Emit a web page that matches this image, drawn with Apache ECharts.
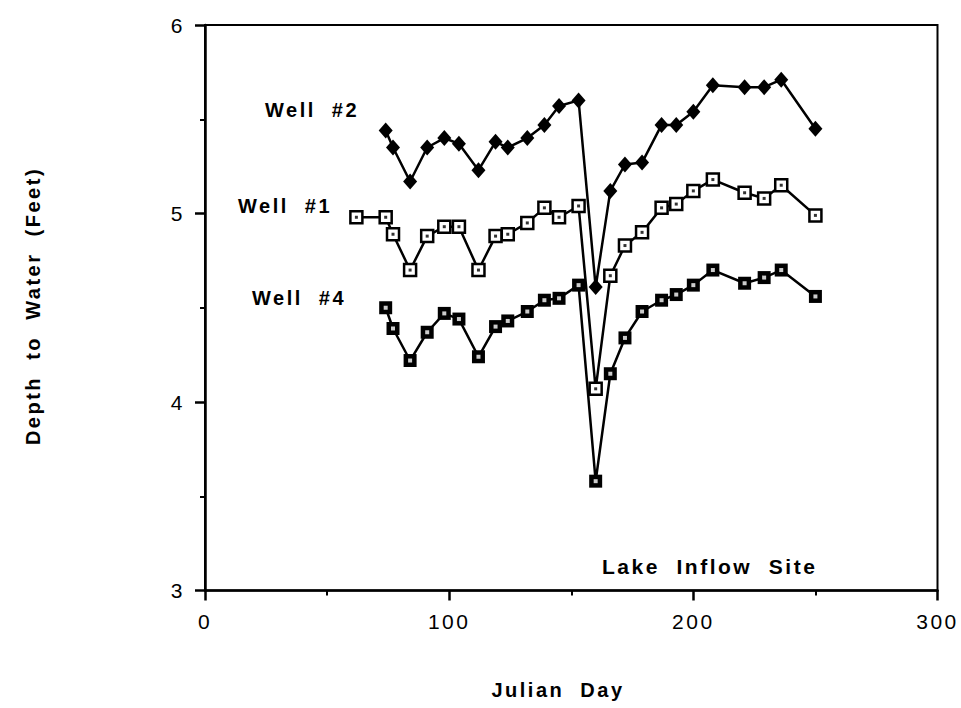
<!DOCTYPE html>
<html>
<head>
<meta charset="utf-8">
<title>Lake Inflow Site - Depth to Water</title>
<script src="https://cdn.jsdelivr.net/npm/echarts/dist/echarts.min.js"></script>
<style>
  html, body { margin: 0; padding: 0; background: #fff; }
  #chart { width: 961px; height: 708px; }
  /* wide typewriter-like spacing of the plotted lettering */
  #chart text { letter-spacing: 2.5px; }
</style>
</head>
<body>
<div id="chart"></div>
<script>
// Sampling days (Julian day). Well #1 has one extra early reading.
const julianDay = [62, 74, 77, 84, 91, 98, 104, 112, 119, 124, 132, 139, 145, 153,
                   160, 166, 172, 179, 187, 193, 200, 208, 221, 229, 236, 250];
// Depth to water, feet
const well1Depth = [4.98, 4.98, 4.89, 4.70, 4.88, 4.93, 4.93, 4.70, 4.88, 4.89, 4.95, 5.03, 4.98,
                    5.04, 4.07, 4.67, 4.83, 4.90, 5.03, 5.05, 5.12, 5.18, 5.11, 5.08, 5.15, 4.99];
const well2Depth = [5.44, 5.35, 5.17, 5.35, 5.40, 5.37, 5.23, 5.38, 5.35, 5.40, 5.47, 5.57,
                    5.60, 4.61, 5.12, 5.26, 5.27, 5.47, 5.47, 5.54, 5.68, 5.67, 5.67, 5.71, 5.45];
const well4Depth = [4.50, 4.39, 4.22, 4.37, 4.47, 4.44, 4.24, 4.40, 4.43, 4.48, 4.54, 4.55,
                    4.62, 3.58, 4.15, 4.34, 4.48, 4.54, 4.57, 4.62, 4.70, 4.63, 4.66, 4.70, 4.56];
const xTicks = [0, 100, 200, 300];
const yTicks = [3, 4, 5, 6];
const seriesNames = ['Well  #2', 'Well  #1', 'Well  #4'];

const FONT = '"Liberation Sans", Arial, Helvetica, sans-serif';

function pairs(days, values) {
  return values.map((v, i) => [days[i], v]);
}
const well1 = pairs(julianDay, well1Depth);
const well2 = pairs(julianDay.slice(1), well2Depth);
const well4 = pairs(julianDay.slice(1), well4Depth);

const chart = echarts.init(document.getElementById('chart'), null, { renderer: 'svg' });

const lineStyle = { color: '#000', width: 2.5 };

chart.setOption({
  animation: false,
  backgroundColor: '#fff',
  grid: {
    left: 205, right: 23.5, top: 25, bottom: 117.5,
    show: true, borderColor: '#000', borderWidth: 2, backgroundColor: 'transparent'
  },
  xAxis: {
    type: 'value',
    min: xTicks[0], max: xTicks[xTicks.length - 1], interval: xTicks[1] - xTicks[0],
    axisLine: { show: true, lineStyle: { color: '#000', width: 2.5 } },
    axisTick: { show: true, length: 10, lineStyle: { color: '#000', width: 2.5 } },
    minorTick: { show: true, splitNumber: 2, length: 5, lineStyle: { color: '#000', width: 2 } },
    splitLine: { show: false },
    axisLabel: { color: '#000', fontFamily: FONT, fontSize: 21, margin: 20 }
  },
  yAxis: {
    type: 'value',
    min: yTicks[0], max: yTicks[yTicks.length - 1], interval: yTicks[1] - yTicks[0],
    axisLine: { show: true, lineStyle: { color: '#000', width: 2.5 } },
    axisTick: { show: true, length: 10, lineStyle: { color: '#000', width: 2.5 } },
    minorTick: { show: true, splitNumber: 2, length: 5, lineStyle: { color: '#000', width: 2 } },
    splitLine: { show: false },
    axisLabel: { color: '#000', fontFamily: FONT, fontSize: 21, margin: 20 }
  },
  series: [
    {
      name: seriesNames[0], type: 'line', data: well2,
      symbol: 'diamond', symbolSize: [14, 16], showAllSymbol: true,
      lineStyle: lineStyle, itemStyle: { color: '#000' }, z: 3
    },
    {
      name: seriesNames[1], type: 'line', data: well1,
      symbol: 'rect', symbolSize: 12, showAllSymbol: true,
      lineStyle: lineStyle, itemStyle: { color: '#fff', borderColor: '#000', borderWidth: 2.5 }, z: 3
    },
    {
      name: seriesNames[2], type: 'line', data: well4,
      symbol: 'rect', symbolSize: 13, showAllSymbol: true,
      lineStyle: lineStyle, itemStyle: { color: '#000' }, z: 3
    },
    // centre dots inside the square markers
    {
      type: 'scatter', data: well1, symbol: 'rect', symbolSize: 3,
      itemStyle: { color: '#000' }, silent: true, z: 5
    },
    {
      type: 'scatter', data: well4, symbol: 'rect', symbolSize: 4,
      itemStyle: { color: '#fff' }, silent: true, z: 5
    }
  ],
  graphic: [
    { type: 'text', left: 265, top: 100,
      style: { text: seriesNames[0], font: 'bold 20px ' + FONT, fill: '#000' } },
    { type: 'text', left: 238, top: 196,
      style: { text: seriesNames[1], font: 'bold 20px ' + FONT, fill: '#000' } },
    { type: 'text', left: 252, top: 288,
      style: { text: seriesNames[2], font: 'bold 20px ' + FONT, fill: '#000' } },
    { type: 'text', left: 602, top: 556,
      style: { text: 'Lake  Inflow  Site', font: 'bold 21px ' + FONT, fill: '#000' } },
    { type: 'text', x: 558, y: 690,
      style: { text: 'Julian  Day', font: 'bold 20px ' + FONT, fill: '#000',
               textAlign: 'center', textVerticalAlign: 'middle' } },
    { type: 'text', x: 33, y: 306, rotation: Math.PI / 2,
      style: { text: 'Depth  to  Water  (Feet)', font: 'bold 20px ' + FONT, fill: '#000',
               textAlign: 'center', textVerticalAlign: 'middle' } }
  ]
});
</script>
</body>
</html>
